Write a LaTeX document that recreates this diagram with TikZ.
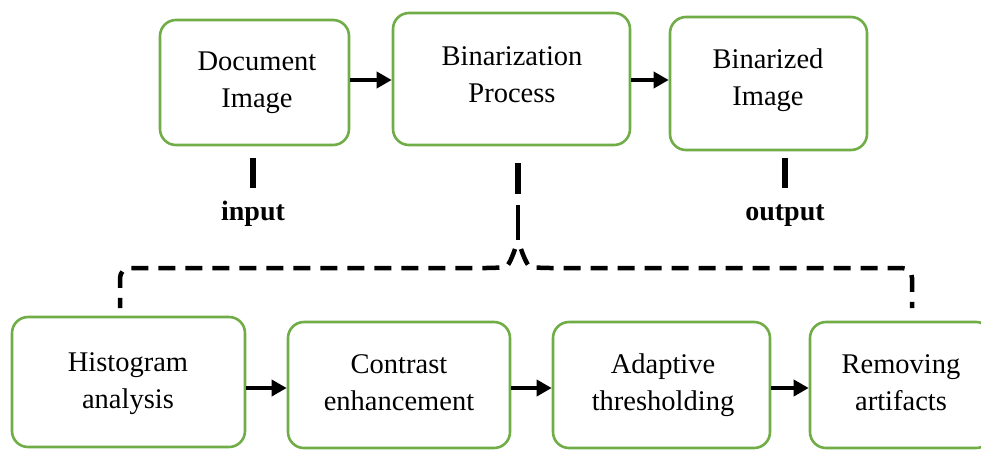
\documentclass[tikz,border=0pt]{standalone}
\usepackage{fontspec}
\setmainfont{Liberation Serif}
\usetikzlibrary{arrows.meta}
\definecolor{boxgreen}{RGB}{112,173,71}
\begin{document}
\begin{tikzpicture}[x=1pt,y=-1pt,
  box/.style={draw=boxgreen, line width=2.6pt, rounded corners=16pt, fill=white, inner sep=0pt},
  txt/.style={align=center, font=\fontsize{28.5}{37}\selectfont, inner sep=0pt, anchor=base},
  lab/.style={font=\fontsize{28}{34}\selectfont\bfseries, inner sep=0pt, anchor=base},
  arr/.style={line width=3.5pt, -{Triangle[length=15pt,width=16pt]}},
  bar/.style={line width=5.5pt},
  brace/.style={line width=4.5pt, dash pattern=on 17pt off 10pt}
]
\useasboundingbox (0,0) rectangle (981,450);
\clip (0,0) rectangle (981,450);
% top row
\node[box, minimum width=189pt, minimum height=125pt] (doc) at (254.5,82.5) {};
\node[box, minimum width=237pt, minimum height=132pt] (bin) at (511.5,79) {};
\node[box, minimum width=197pt, minimum height=133pt] (bzd) at (768.5,83.5) {};
\node[txt] (tdoc) at (257,107) {Document\\Image};
\node[txt] (tbin) at (512,102) {Binarization\\Process};
\node[txt] (tbzd) at (768,105) {Binarized\\Image};
% bottom row
\node[box, minimum width=233pt, minimum height=130pt] (hist) at (128.5,382) {};
\node[box, minimum width=222pt, minimum height=126pt] (con) at (399,385) {};
\node[box, minimum width=217pt, minimum height=126pt] (ada) at (661.5,385) {};
\node[box, minimum width=182pt, minimum height=126pt] (rem) at (901,385) {};
\node[txt] (thist) at (128,408) {Histogram\\analysis};
\node[txt] (tcon) at (399,410) {Contrast\\enhancement};
\node[txt] (tada) at (663,410) {Adaptive\\thresholding};
\node[txt] (trem) at (901,410) {Removing\\artifacts};
% arrows
\coordinate (rowA) at (0,80);
\coordinate (rowB) at (0,388);
\draw[arr] (doc.east |- rowA) -- (bin.west |- rowA);
\draw[arr] (bin.east |- rowA) -- (bzd.west |- rowA);
\draw[arr] (hist.east |- rowB) -- (con.west |- rowB);
\draw[arr] (con.east |- rowB) -- (ada.west |- rowB);
\draw[arr] (ada.east |- rowB) -- (rem.west |- rowB);
% bars and labels
\coordinate (inA) at (253,158); \coordinate (inB) at (253,188);
\coordinate (outA) at (785,158); \coordinate (outB) at (785,188);
\coordinate (pA) at (518,163); \coordinate (pB) at (518,194);
\draw[bar] (inA) -- (inB);
\draw[bar] (outA) -- (outB);
\draw[bar] (pA) -- (pB);
\node[lab] (lin) at (253,220) {input};
\node[lab] (lout) at (785,220) {output};
% brace
\coordinate (pC) at (518,205);
\coordinate (pD) at (518,240);
\coordinate (lend) at (120,308);
\coordinate (rend) at (912,308);
\draw[line width=4pt] (pC) -- (pD);
\draw[brace, rounded corners=10pt] (515,249) .. controls (511,261) and (507,267) .. (496,268) -- (120,268) -- (lend);
\draw[brace, rounded corners=10pt] (521,249) .. controls (525,261) and (529,267) .. (540,268) -- (912,268) -- (rend);
\end{tikzpicture}
\end{document}
